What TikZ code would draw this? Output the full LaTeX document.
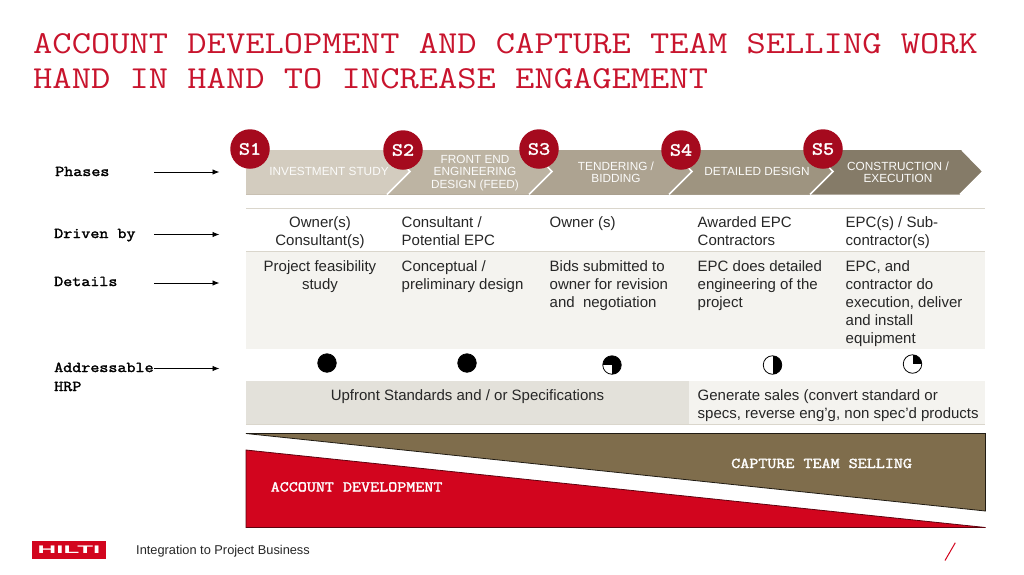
\documentclass[tikz,border=0pt]{standalone}
\usepackage{fontspec}
\setmainfont{Liberation Sans}
\newfontfamily\slabfont[FakeStretch=1.17]{Latin Modern Mono}
\newfontfamily\slabbold[FakeStretch=1.17,FakeBold=2]{Latin Modern Mono}
\usetikzlibrary{arrows.meta,positioning}

\definecolor{hiltired}{HTML}{D2051E}
\definecolor{darkred}{HTML}{A50A1E}
\definecolor{titlered}{HTML}{C8142D}
\definecolor{umber}{HTML}{7F6D4C}
\definecolor{chevA}{HTML}{D3CCBF}
\definecolor{chevB}{HTML}{BDB4A3}
\definecolor{chevC}{HTML}{ADA391}
\definecolor{chevD}{HTML}{9E9480}
\definecolor{chevE}{HTML}{857B68}
\definecolor{rulegrey}{HTML}{DAD6CC}
\definecolor{paleband}{HTML}{F4F3EF}
\definecolor{midband}{HTML}{E3E1DA}

\tikzset{
	rowlabel/.style={anchor=base west,inner sep=0pt,align=left,font=\slabbold\fontsize{15}{19}\selectfont},
	rowarrow/.style={-{Latex[length=7pt,width=5.5pt]},line width=0.9pt},
	stagemark/.style={circle,fill=darkred,text=white,minimum size=39.5pt,inner sep=0pt,font=\slabbold\fontsize{18.5}{18.5}\selectfont},
	chevtext/.style={text=white!92!chevA,inner sep=0pt,align=center,font=\fontsize{11.8}{12.4}\selectfont},
	celltext/.style={text=black!85,inner sep=0pt,anchor=north west,align=left,font=\fontsize{15}{18}\selectfont},
	hball/.style={circle,draw,line width=0.8pt,fill=white,minimum size=18.5pt,inner sep=0pt},
	wedgetext/.style={text=white,inner sep=0pt,font=\slabbold\fontsize{15}{15}\selectfont},
}

\begin{document}
\begin{tikzpicture}[x=1pt,y=-1pt]
	\useasboundingbox (0,0) rectangle (1024,574);
	% title
	\node[anchor=base west,inner sep=0pt,text=titlered,align=left,font=\slabfont\fontsize{32}{35}\selectfont] (title) at (33,88)
		{ACCOUNT DEVELOPMENT AND CAPTURE TEAM SELLING WORK\\HAND IN HAND TO INCREASE ENGAGEMENT};
	% phases
	\foreach \tip/\clr in {983/chevE,833/chevD,692/chevC,552/chevB,410/chevA} {
		\fill[\clr] (246,150) -- (\tip-21,150) -- (\tip,171.5) -- (\tip-23,194.5) -- (246,194.5) -- cycle;
		\draw[white,line width=1.5pt] (\tip-21,150) -- (\tip,171.5) -- (\tip-23,194.5);
	}
	\node[chevtext] (invest) at (329,171.5) {INVESTMENT STUDY};
	\node[chevtext] (feed) at (475,173) {FRONT END\\ENGINEERING\\DESIGN (FEED)};
	\node[chevtext] (tender) at (616,172.5) {TENDERING /\\BIDDING};
	\node[chevtext] (detail) at (757,171.5) {DETAILED DESIGN};
	\node[chevtext] (construct) at (898,172.5) {CONSTRUCTION /\\EXECUTION};
	\foreach \n/\xx/\yy in {1/250/149,2/403/150,3/539/149,4/681/150,5/823/149}
		\node[stagemark] (s\n) at (\xx,\yy) {S\n};
	% bands
	\fill[paleband] (246,252) rectangle (985,349);
	\fill[midband] (246,381) rectangle (689,424.5);
	\fill[paleband] (689,381) rectangle (985,424.5);
	\draw[rulegrey] (246,208) -- (985,208);
	\draw[rulegrey] (246,251.5) -- (985,251.5);
	\draw[rulegrey] (246,424.5) -- (985,424.5);
	% row labels
	\node[rowlabel] (phases) at (55,176) {Phases};
	\node[rowlabel] (driven) at (54,238) {Driven by};
	\node[rowlabel] (details) at (54,286) {Details};
	\node[rowlabel] (hrp) at (54,391) {Addressable\\HRP};
	\foreach \n/\yy in {phases/172,driven/234.5,details/283,hrp/368.5} {
		\coordinate (\n from) at (154,\yy);
		\coordinate (\n to) at (219.5,\yy);
		\draw[rowarrow] (\n from) -- (\n to);
	}
	% driven by
	\node[celltext,align=center,anchor=north] (drive1) at (320,214.4) {\strut Owner(s)\\Consultant(s)};
	\node[celltext] (drive2) at (401.5,214.4) {\strut Consultant /\\Potential EPC};
	\node[celltext] (drive3) at (549.5,214.4) {\strut Owner (s)};
	\node[celltext] (drive4) at (697.5,214.4) {\strut Awarded EPC\\Contractors};
	\node[celltext] (drive5) at (845.5,214.4) {\strut EPC(s) / Sub-\\contractor(s)};
	% details
	\node[celltext,align=center,anchor=north] (detail1) at (320,258.4) {\strut Project feasibility\\study};
	\node[celltext] (detail2) at (401.5,258.4) {\strut Conceptual /\\preliminary design};
	\node[celltext] (detail3) at (549.5,258.4) {\strut Bids submitted to\\owner for revision\\and\ \ negotiation};
	\node[celltext] (detail4) at (697.5,258.4) {\strut EPC does detailed\\engineering of the\\project};
	\node[celltext] (detail5) at (845.5,258.4) {\strut EPC, and\\contractor do\\execution, deliver\\and install\\equipment};
	% addressable
	\node[hball,fill=black] (ball1) at (327,363) {};
	\node[hball,fill=black] (ball2) at (467,363) {};
	\node[hball,path picture={
		\fill[black] (path picture bounding box.center) rectangle (path picture bounding box.north west);
		\fill[black] (path picture bounding box.center) rectangle (path picture bounding box.north east);
		\fill[black] (path picture bounding box.center) rectangle (path picture bounding box.south east);
	}] (ball3) at (612,365) {};
	\node[hball,path picture={
		\fill[black] (path picture bounding box.north) rectangle (path picture bounding box.south east);
	}] (ball4) at (772.5,365) {};
	\node[hball,path picture={
		\fill[black] (path picture bounding box.center) rectangle (path picture bounding box.north east);
	}] (ball5) at (912.5,364) {};
	% strategy
	\node[celltext,anchor=north] (upfront) at (467.5,387.7) {\strut Upfront Standards and / or Specifications};
	\node[celltext] (generate) at (697.5,387.7) {\strut Generate sales (convert standard or\\specs, reverse eng’g, non spec’d products};
	% wedges
	\draw[fill=umber,draw=black!75!umber,line width=0.8pt] (246,433.5) -- (985.5,433.5) -- (985.5,511) -- cycle;
	\draw[fill=hiltired,draw=black!55!hiltired,line width=0.8pt] (246,450) -- (985.5,527.5) -- (246,527.5) -- cycle;
	\node[wedgetext,anchor=base west] (capture) at (731,468) {CAPTURE TEAM SELLING};
	\node[wedgetext,anchor=base west] (account) at (270.5,491.5) {ACCOUNT DEVELOPMENT};
	% footer
	\node[fill=hiltired,text=white,minimum width=74pt,minimum height=18pt,inner sep=0pt] (logo) at (69,550) {};
	\node[text=white,inner sep=0pt,xscale=2.35,transform shape,font=\bfseries\fontsize{11}{11}\selectfont] (logotext) at (69,550) {HILTI};
	\node[anchor=west,inner sep=0pt,text=black!85,font=\fontsize{12.8}{14}\selectfont] (footer) at (136,551.5) {Integration to Project Business};
	\coordinate (slashlow) at (945,560.5);
	\coordinate (slashhigh) at (955.3,542.7);
	\draw[hiltired,line width=1pt] (slashlow) -- (slashhigh);
\end{tikzpicture}
\end{document}
